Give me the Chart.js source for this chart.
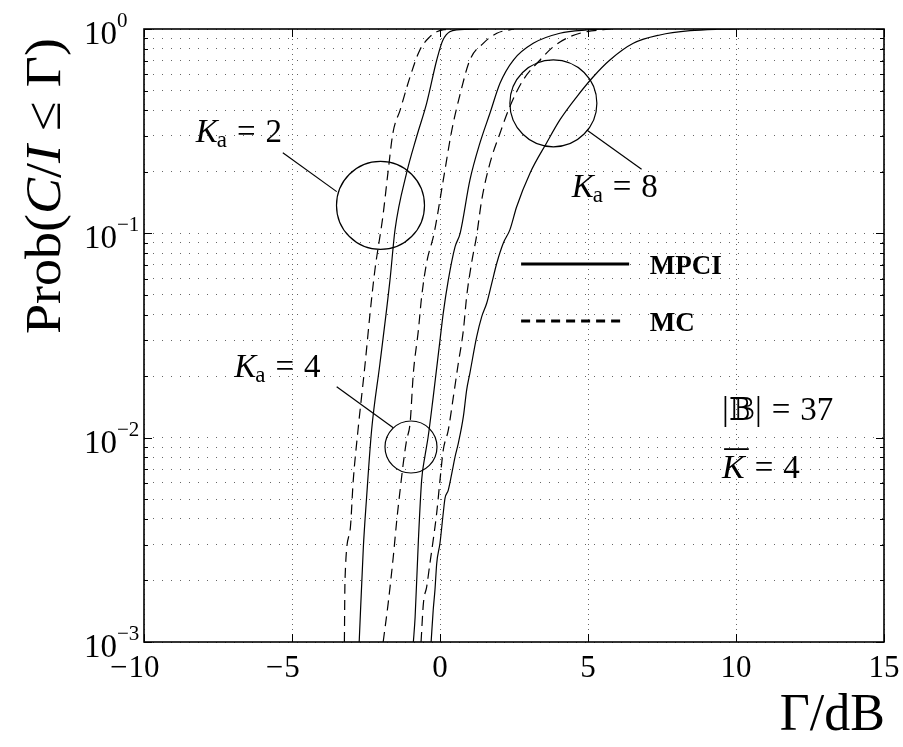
<!DOCTYPE html>
<html>
<head>
<meta charset="utf-8">
<script src="https://cdn.jsdelivr.net/npm/chart.js@4.4.0/dist/chart.umd.min.js"></script>
<style>
  html, body { margin: 0; padding: 0; background: #fff; }
  canvas { display: block; }
</style>
</head>
<body>
<canvas id="cdf" width="903" height="747"></canvas>
<script>
// Distribution of the carrier-to-interference ratio C/I versus threshold Γ (dB)

const xTicks = [-10, -5, 0, 5, 10, 15];
const yDecades = [1e-3, 1e-2, 1e-1, 1];
const seriesNames = ['MPCI', 'MC'];
const kaValues = [2, 4, 8];
const bsCount = 37;
const meanK = 4;

// Monte-Carlo, Ka = 2
const gammaMcKa2 = [-3.23, -3.21, -3.04, -2.93, -2.77, -2.53, -2.36, -2.20, -1.93, -1.76, -1.59, -1.35, -1.01, -0.68, -0.34, -0.11, 0.25];
const probMcKa2  = [1e-3, 2.0e-3, 3.5e-3, 6.2e-3, 1.09e-2, 2.3e-2, 4.1e-2, 6.6e-2, 0.121, 0.197, 0.31, 0.40, 0.584, 0.79, 0.917, 0.97, 1.0];

// MPCI, Ka = 2
const gammaMpciKa2 = [-2.73, -2.59, -2.48, -2.31, -2.03, -1.69, -1.52, -1.13, -0.79, -0.45, -0.11, 0.10, 0.56, 1.3];
const probMpciKa2  = [1e-3, 2.9e-3, 5.1e-3, 1.09e-2, 2.3e-2, 5.9e-2, 0.104, 0.197, 0.297, 0.434, 0.705, 0.884, 0.99, 1.0];

// Monte-Carlo, Ka = 4
const gammaMcKa4 = [-1.92, -1.75, -1.58, -1.46, -1.35, -1.24, -1.13, -1.01, -0.90, -0.73, -0.62, -0.45, -0.20, 0.11, 0.40, 0.68, 1.01, 1.46, 1.92, 2.5];
const probMcKa4  = [1e-3, 1.55e-3, 2.6e-3, 3.95e-3, 5.5e-3, 7.5e-3, 9.7e-3, 1.18e-2, 2.07e-2, 3.36e-2, 4.9e-2, 7.2e-2, 0.1, 0.182, 0.32, 0.48, 0.705, 0.851, 0.953, 1.0];

// MPCI, Ka = 4
const gammaMpciKa4 = [-0.90, -0.84, -0.73, -0.62, -0.51, -0.40, -0.23, 0.0, 0.11, 0.28, 0.51, 0.68, 1.01, 1.35, 1.69, 2.03, 2.48, 3.15, 4.05, 4.96, 5.6];
const probMpciKa4  = [1e-3, 1.33e-3, 3.15e-3, 6.2e-3, 8.1e-3, 1.01e-2, 1.58e-2, 3.0e-2, 4.07e-2, 5.9e-2, 8.6e-2, 0.1, 0.182, 0.277, 0.388, 0.544, 0.705, 0.851, 0.953, 0.99, 1.0];

// Monte-Carlo, Ka = 8
const gammaMcKa8 = [-0.64, -0.56, -0.45, -0.34, -0.23, -0.11, 0.0, 0.11, 0.28, 0.45, 0.62, 0.79, 0.90, 1.07, 1.24, 1.41, 1.69, 2.03, 2.36, 2.81, 3.38, 3.83, 4.39, 4.96, 5.8];
const probMcKa8  = [1e-3, 1.55e-3, 1.86e-3, 2.43e-3, 3.15e-3, 4.3e-3, 6.2e-3, 8.7e-3, 1.09e-2, 1.58e-2, 2.32e-2, 3.36e-2, 4.9e-2, 7.2e-2, 0.098, 0.146, 0.221, 0.31, 0.417, 0.563, 0.705, 0.819, 0.917, 0.97, 1.0];

// MPCI, Ka = 8
const gammaMpciKa8 = [-0.30, -0.23, -0.17, -0.11, 0.0, 0.11, 0.17, 0.28, 0.40, 0.51, 0.62, 0.79, 0.90, 1.01, 1.24, 1.41, 1.58, 1.75, 1.92, 2.14, 2.36, 2.59, 3.04, 3.60, 4.05, 4.62, 5.18, 5.74, 6.53, 7.43, 8.45, 9.35, 10.0];
const probMpciKa8  = [1e-3, 1.43e-3, 1.8e-3, 2.43e-3, 3.05e-3, 4.28e-3, 5.06e-3, 5.54e-3, 6.7e-3, 8.07e-3, 9.4e-3, 1.27e-2, 1.71e-2, 2.07e-2, 3.12e-2, 3.91e-2, 4.56e-2, 5.71e-2, 7.16e-2, 8.97e-2, 0.104, 0.135, 0.197, 0.277, 0.359, 0.466, 0.584, 0.705, 0.851, 0.935, 0.981, 0.997, 1.0];

// ---- styling / layout ----
const SERIF = '"Liberation Serif", "DejaVu Serif", "DejaVu Sans", serif';
const INK = '#000';
const DASH = [10, 6];

const zip = (xs, ys) => xs.map((x, i) => ({ x, y: ys[i] }));

function curve(xs, ys, dashed) {
  return {
    data: zip(xs, ys),
    borderColor: INK,
    borderWidth: 1.2,
    borderDash: dashed ? DASH : [],
    pointRadius: 0,
    fill: false,
    cubicInterpolationMode: 'monotone'
  };
}

// every minor/major level of the log axis (1..9 × 10^k)
const yLevels = [];
yDecades.forEach((d, i) => {
  if (i === yDecades.length - 1) { yLevels.push(d); return; }
  for (let m = 1; m <= 9; m++) yLevels.push(+(m * d).toPrecision(3));
});

// annotation placement (data coordinates, circle radius in px)
const kaMarks = [
  { ka: kaValues[0], c: [-2.01, 0.137], r: 44,   from: [-3.49, 0.160],  to: [-5.31, 0.248],  text: [-8.25, 0.28] },
  { ka: kaValues[1], c: [-0.98, 9.0e-3], r: 26,  from: [-1.58, 0.01117], to: [-3.49, 0.01775], text: [-6.95, 0.0198] },
  { ka: kaValues[2], c: [3.83, 0.433], r: 43.5,  from: [4.96, 0.3206],  to: [6.81, 0.2057],  text: [4.45, 0.1506] }
];
const legendRows = [
  { name: seriesNames[0], dashed: false, x0: 2.74, x1: 6.39, y: 0.0708, tx: 7.09 },
  { name: seriesNames[1], dashed: true,  x0: 2.74, x1: 6.22, y: 0.0372, tx: 7.09 }
];
const infoPos = { x: 9.53, yB: 0.0122, yK: 6.34e-3 };

function fontOf(r) {
  return (r.italic ? 'italic ' : '') + (r.bold ? 'bold ' : '') + r.size + 'px ' + SERIF;
}
function runsWidth(ctx, runs) {
  let w = 0;
  for (const r of runs) {
    ctx.font = fontOf(r);
    w += (r.pad || 0) + ctx.measureText(r.t).width;
  }
  return w;
}
function drawRuns(ctx, runs, x, y) {
  ctx.textBaseline = 'alphabetic';
  ctx.textAlign = 'left';
  for (const r of runs) {
    ctx.font = fontOf(r);
    x += r.pad || 0;
    ctx.fillText(r.t, x, y + (r.dy || 0));
    x += ctx.measureText(r.t).width;
  }
  return x;
}
// "lhs = rhs" with wide spacing around the equals sign
const eqRuns = (lhs, rhs, size) => lhs.concat([
  { t: '=', size: size, pad: 0.3 * size },
  { t: String(rhs), size: size, pad: 0.3 * size }
]);

const decor = {
  id: 'decor',
  afterDatasetsDraw(chart) {
    const { ctx, chartArea: a, scales: { x, y } } = chart;
    const px = v => x.getPixelForValue(v);
    const py = v => y.getPixelForValue(v);
    ctx.save();
    ctx.fillStyle = INK;
    ctx.strokeStyle = INK;

    // inward tick marks on all four sides
    ctx.lineWidth = 1;
    ctx.beginPath();
    xTicks.forEach(v => {
      const X = Math.round(px(v)) + 0.5;
      ctx.moveTo(X, a.bottom); ctx.lineTo(X, a.bottom - 8);
      ctx.moveTo(X, a.top); ctx.lineTo(X, a.top + 8);
    });
    yLevels.forEach(v => {
      const Y = Math.round(py(v)) + 0.5;
      const len = yDecades.includes(v) ? 8 : 4;
      ctx.moveTo(a.left, Y); ctx.lineTo(a.left + len, Y);
      ctx.moveTo(a.right, Y); ctx.lineTo(a.right - len, Y);
    });
    ctx.stroke();

    // plot box
    ctx.lineWidth = 1.6;
    ctx.strokeRect(a.left, a.top, a.right - a.left, a.bottom - a.top);

    // x tick labels: digits centred on the tick, minus sign hanging to the left
    ctx.font = '31px ' + SERIF;
    ctx.textBaseline = 'alphabetic';
    xTicks.forEach(v => {
      const digits = String(Math.abs(v));
      const w = ctx.measureText(digits).width;
      const X = px(v);
      ctx.textAlign = 'left';
      ctx.fillText(digits, X - w / 2, a.bottom + 35);
      if (v < 0) {
        ctx.textAlign = 'right';
        ctx.fillText('\u2212', X - w / 2 - 1, a.bottom + 35);
      }
    });

    // y tick labels 10^k
    yDecades.forEach(v => {
      const k = Math.round(Math.log10(v));
      const Y = py(v);
      ctx.font = '33px ' + SERIF;
      ctx.textAlign = 'right';
      ctx.fillText('10', a.left - 27, Y + 15);
      ctx.font = '21px ' + SERIF;
      ctx.textAlign = 'left';
      ctx.fillText(k === 0 ? '0' : '\u2212' + Math.abs(k), a.left - 27, Y - 2);
    });

    // axis titles
    const xTitle = [{ t: '\u0393/dB', size: 52 }];
    const xw = runsWidth(ctx, xTitle);
    drawRuns(ctx, xTitle, a.right + 1 - xw, a.bottom + 88);

    const yTitle = [
      { t: 'Prob(', size: 50 }, { t: 'C', italic: true, size: 50 }, { t: '/', size: 50 },
      { t: 'I', italic: true, size: 50 },
      { t: '\u2264', size: 50, pad: 13 }, { t: '\u0393)', size: 50, pad: 13 }
    ];
    const yw = runsWidth(ctx, yTitle);
    ctx.save();
    ctx.translate(60, 186);
    ctx.rotate(-Math.PI / 2);
    ctx.scale(1.08, 1);
    drawRuns(ctx, yTitle, -yw / 2, 0);
    ctx.restore();

    // Ka circles, leader lines and labels
    ctx.lineWidth = 1.2;
    kaMarks.forEach(m => {
      ctx.beginPath();
      ctx.arc(px(m.c[0]), py(m.c[1]), m.r, 0, Math.PI * 2);
      ctx.stroke();
      ctx.beginPath();
      ctx.moveTo(px(m.from[0]), py(m.from[1]));
      ctx.lineTo(px(m.to[0]), py(m.to[1]));
      ctx.stroke();
      drawRuns(ctx, eqRuns([
        { t: 'K', italic: true, size: 33 },
        { t: 'a', size: 23, dy: 5, pad: -1 }
      ], m.ka, 33), px(m.text[0]), py(m.text[1]));
    });

    // legend
    legendRows.forEach(row => {
      const Y = py(row.y);
      ctx.save();
      ctx.lineWidth = 3;
      ctx.setLineDash(row.dashed ? [9, 6] : []);
      ctx.beginPath();
      ctx.moveTo(px(row.x0), Y);
      ctx.lineTo(px(row.x1), Y);
      ctx.stroke();
      ctx.restore();
      drawRuns(ctx, [{ t: row.name, bold: true, size: 27 }], px(row.tx), Y + 10);
    });

    // parameter box
    const ix = px(infoPos.x);
    drawRuns(ctx, eqRuns([
      { t: '|', size: 34 }, { t: '\u{1D539}', size: 31 }, { t: '|', size: 34 }
    ], bsCount, 33), ix, py(infoPos.yB));
    const kb = py(infoPos.yK);
    ctx.font = 'italic 34px ' + SERIF;
    const kw = ctx.measureText('K').width;
    drawRuns(ctx, eqRuns([{ t: 'K', italic: true, size: 34 }], meanK, 33), ix, kb);
    ctx.lineWidth = 1.8;
    ctx.beginPath();
    ctx.moveTo(ix + 2, kb - 29);
    ctx.lineTo(ix + kw + 4, kb - 29);
    ctx.stroke();

    ctx.restore();
  }
};

const gridStyle = { color: 'rgba(0,0,0,0.6)', lineWidth: 1, drawTicks: false };

new Chart(document.getElementById('cdf'), {
  type: 'line',
  data: {
    datasets: [
      curve(gammaMcKa2, probMcKa2, true),
      curve(gammaMpciKa2, probMpciKa2, false),
      curve(gammaMcKa4, probMcKa4, true),
      curve(gammaMpciKa4, probMpciKa4, false),
      curve(gammaMcKa8, probMcKa8, true),
      curve(gammaMpciKa8, probMpciKa8, false)
    ]
  },
  options: {
    responsive: false,
    animation: false,
    devicePixelRatio: 1,
    layout: { padding: { left: 144, right: 19, top: 29, bottom: 105 } },
    plugins: { legend: { display: false }, tooltip: { enabled: false } },
    scales: {
      x: {
        type: 'linear', min: -10, max: 15,
        afterBuildTicks: s => { s.ticks = xTicks.map(v => ({ value: v })); },
        ticks: { display: false },
        grid: gridStyle,
        border: { display: false, dash: [1, 4] }
      },
      y: {
        type: 'logarithmic', min: 1e-3, max: 1,
        afterBuildTicks: s => { s.ticks = yLevels.map(v => ({ value: v })); },
        ticks: { display: false },
        grid: gridStyle,
        border: { display: false, dash: [1, 8] }
      }
    }
  },
  plugins: [decor]
});
</script>
</body>
</html>
